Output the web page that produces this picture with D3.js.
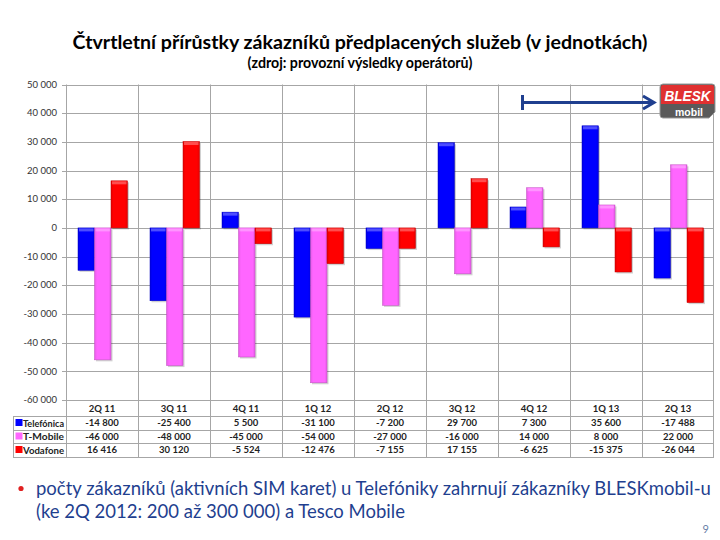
<!DOCTYPE html>
<html><head><meta charset="utf-8">
<script src="https://cdn.jsdelivr.net/npm/d3@7"></script>
<style>body{margin:0;background:#fff}svg{display:block}</style>
</head><body>
<script>
const categories = ["2Q 11","3Q 11","4Q 11","1Q 12","2Q 12","3Q 12","4Q 12","1Q 13","2Q 13"];
const seriesNames = ["Telefónica","T-Mobile","Vodafone"];
const telefonica = [-14800,-25400,5500,-31100,-7200,29700,7300,35600,-17488];
const tmobile = [-46000,-48000,-45000,-54000,-27000,-16000,14000,8000,22000];
const vodafone = [16416,30120,-5524,-12476,-7155,17155,-6625,-15375,-26044];
const yTicks = [50000,40000,30000,20000,10000,0,-10000,-20000,-30000,-40000,-50000,-60000];
const colors = ["#0000FF","#FF66FF","#FF0000"];
const seriesValues = [telefonica, tmobile, vodafone];

const W=720,H=540;
const svg=d3.select("body").append("svg").attr("width",W).attr("height",H);
const font="Lato, 'Open Sans', sans-serif";
const fmt = v => { const s=Math.abs(v).toString().replace(/\B(?=(\d{3})+(?!\d))/g," "); return (v<0?"-":"")+s; };

// title
svg.append("text").attr("x",360).attr("y",49).attr("text-anchor","middle")
  .attr("font-family",font).attr("font-weight","bold").attr("font-size",19.6).attr("fill","#000")
  .text("Čtvrtletní přírůstky zákazníků předplacených služeb (v jednotkách)");
svg.append("text").attr("x",360).attr("y",67.5).attr("text-anchor","middle")
  .attr("font-family",font).attr("font-weight","bold").attr("font-size",14.2).attr("fill","#000")
  .text("(zdroj: provozní výsledky operátorů)");

const x0=d3.scaleBand().domain(categories).range([66,714]);
const x1=d3.scaleBand().domain(seriesNames).range([12,61.5]);
const y=d3.scaleLinear().domain([-60000,50000]).range([400,84.5]);

const defs=svg.append("defs");
colors.forEach((c,i)=>{
  const g=defs.append("linearGradient").attr("id","g"+i).attr("x1",0).attr("x2",1).attr("y1",0).attr("y2",0);
  g.append("stop").attr("offset","0%").attr("stop-color",d3.color(c).darker(0.3));
  g.append("stop").attr("offset","15%").attr("stop-color",c);
  g.append("stop").attr("offset","85%").attr("stop-color",c);
  g.append("stop").attr("offset","100%").attr("stop-color",d3.color(c).darker(0.3));
});

const tableBottom=457;
// gridlines
const grid=svg.append("g").attr("stroke","#A6A6A6").attr("stroke-width",1);
yTicks.forEach(t=>{
  grid.append("line").attr("x1",62).attr("x2",714).attr("y1",Math.round(y(t))+0.5).attr("y2",Math.round(y(t))+0.5);
});
categories.forEach(c=>{
  const xx=Math.round(x0(c))+0.5;
  grid.append("line").attr("x1",xx).attr("x2",xx).attr("y1",84.5).attr("y2",tableBottom);
});
grid.append("line").attr("x1",713.5).attr("x2",713.5).attr("y1",84.5).attr("y2",tableBottom);

// y labels
svg.append("g").selectAll("text").data(yTicks).join("text")
  .attr("x",57).attr("y",d=>y(d)+3.2).attr("text-anchor","end")
  .attr("font-family",font).attr("font-size",9.5).attr("fill","#333").text(fmt);

// bars
const bars=svg.append("g");
seriesNames.forEach((s,si)=>{
  const vals=seriesValues[si];
  categories.forEach((c,ci)=>{
    const v=vals[ci];
    const bx=x0(c)+x1(s), bw=x1.bandwidth();
    const top=y(Math.max(0,v)), h=Math.abs(y(v)-y(0));
    bars.append("rect").attr("x",bx+1.5).attr("y",top+1.5).attr("width",bw).attr("height",h)
      .attr("fill","#000").attr("opacity",0.18);
    bars.append("rect").attr("x",bx).attr("y",top).attr("width",bw).attr("height",h)
      .attr("fill","url(#g"+si+")").attr("stroke",d3.color(colors[si]).darker(0.8)).attr("stroke-width",0.5);
    bars.append("rect").attr("x",bx+1).attr("y",top+0.5).attr("width",bw-2).attr("height",Math.min(3,h))
      .attr("fill","#fff").attr("opacity",0.3);
  });
});

// table
const tb=svg.append("g");
const rowY=[400,416,430,443,457];
tb.append("line").attr("x1",66).attr("x2",714).attr("y1",400.5).attr("y2",400.5).attr("stroke","#A6A6A6");
for(let r=1;r<rowY.length;r++){
  tb.append("line").attr("x1",13).attr("x2",714).attr("y1",rowY[r]+0.5).attr("y2",rowY[r]+0.5).attr("stroke","#A6A6A6");
}
tb.append("line").attr("x1",13.5).attr("x2",13.5).attr("y1",416).attr("y2",457).attr("stroke","#A6A6A6");
categories.forEach(c=>{
  tb.append("text").attr("x",x0(c)+x0.bandwidth()/2).attr("y",411.5).attr("text-anchor","middle")
    .attr("font-family",font).attr("font-size",9.5).attr("font-weight","bold").attr("fill","#222").text(c);
});
seriesNames.forEach((s,si)=>{
  const cy=(rowY[si+1]+rowY[si+2])/2;
  tb.append("rect").attr("x",15.5).attr("y",cy-4).attr("width",7).attr("height",7).attr("fill",colors[si]);
  tb.append("text").attr("x",23).attr("y",cy+3.5).attr("font-family",font).attr("font-size",9.5)
    .attr("font-weight","bold").attr("fill","#222").attr("textLength",41).attr("lengthAdjust","spacingAndGlyphs").text(s);
  categories.forEach((c,ci)=>{
    tb.append("text").attr("x",x0(c)+x0.bandwidth()/2).attr("y",cy+3.3).attr("text-anchor","middle")
      .attr("font-family",font).attr("font-size",9.5).attr("font-weight","bold").attr("fill","#222").text(fmt(seriesValues[si][ci]));
  });
});

// arrow
const ac="#1F3F8F";
svg.append("line").attr("x1",523).attr("x2",652).attr("y1",102.5).attr("y2",102.5).attr("stroke",ac).attr("stroke-width",3);
svg.append("line").attr("x1",522.5).attr("x2",522.5).attr("y1",95).attr("y2",110).attr("stroke",ac).attr("stroke-width",3);
svg.append("path").attr("d","M643,96 L654,102.5 L643,109").attr("fill","none").attr("stroke",ac).attr("stroke-width",3);

// logo
const lg=svg.append("g");
lg.append("path").attr("d","M663,84 L712,84 Q715,84 715,87 L715,112 L709,118 L663,118 Q660,118 660,115 L660,87 Q660,84 663,84Z")
  .attr("fill","#5a5a5a").attr("stroke","#999").attr("stroke-width",1);
lg.append("path").attr("d","M663,85 L712,85 Q714,85 714,87 L714,104 L661,104 L661,87 Q661,85 663,85Z").attr("fill","#E03030");
lg.append("text").attr("x",687.5).attr("y",100.5).attr("text-anchor","middle").attr("font-family","'Liberation Sans', Arial, sans-serif")
  .attr("font-weight","bold").attr("font-style","italic").attr("font-size",14).attr("fill","#fff")
  .attr("textLength",46).attr("lengthAdjust","spacingAndGlyphs").text("BLESK");
lg.append("text").attr("x",689).attr("y",115.5).attr("text-anchor","middle").attr("font-family","'Liberation Sans', Arial, sans-serif")
  .attr("font-weight","bold").attr("font-size",10.5).attr("fill","#fff").text("mobil");

// footnote
svg.append("circle").attr("cx",21).attr("cy",488.5).attr("r",2.6).attr("fill","#E02020");
const fn=svg.append("text").attr("font-family",font).attr("font-size",18.5).attr("fill","#1F3F8F");
fn.append("tspan").attr("x",36).attr("y",495).text("počty zákazníků (aktivních SIM karet) u Telefóniky zahrnují zákazníky BLESKmobil-u");
fn.append("tspan").attr("x",36).attr("y",518).text("(ke 2Q 2012:  200 až 300 000) a Tesco Mobile");
svg.append("text").attr("x",709).attr("y",533).attr("text-anchor","end").attr("font-family",font)
  .attr("font-size",11).attr("fill","#6A7FA8").text("9");
</script>
</body></html>
